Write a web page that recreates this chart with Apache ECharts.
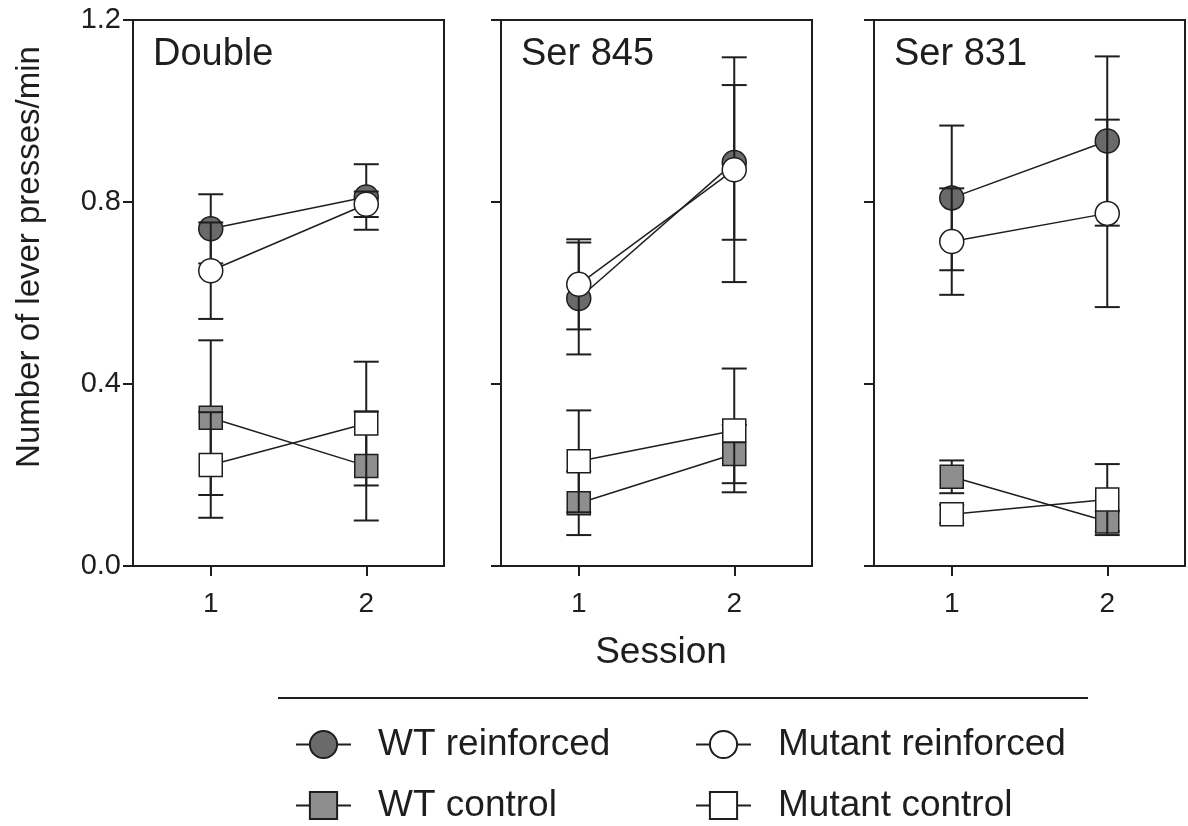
<!DOCTYPE html>
<html>
<head>
<meta charset="utf-8">
<script src="https://cdn.jsdelivr.net/npm/echarts@6/dist/echarts.min.js"></script>
<style>
  html, body { margin: 0; padding: 0; background: #fff; }
  #chart { width: 1188px; height: 826px; }
</style>
</head>
<body>
<div id="chart"></div>
<script>
// data: [session 1, session 2] for each panel
const sessions = [1, 2];
const panelNames = ['Double', 'Ser 845', 'Ser 831'];
const yTicks = [0, 0.4, 0.8, 1.2];

const wtReinforced     = [[0.741, 0.811], [0.588, 0.887], [0.809, 0.934]];
const wtReinforcedSem  = [[0.076, 0.072], [0.123, 0.170], [0.159, 0.186]];
const mutReinforced    = [[0.649, 0.795], [0.619, 0.871], [0.713, 0.775]];
const mutReinforcedSem = [[0.106, 0.028], [0.099, 0.247], [0.117, 0.206]];
const wtControl        = [[0.326, 0.220], [0.138, 0.246], [0.196, 0.098]];
const wtControlSem     = [[0.170, 0.120], [0.070, 0.064], [0.036, 0.022]];
const mutControl       = [[0.222, 0.313], [0.230, 0.298], [0.114, 0.146]];
const mutControlSem    = [[0.116, 0.136], [0.112, 0.136], [0.020, 0.078]];

const groups = [
  { name: 'WT reinforced', mean: wtReinforced, sem: wtReinforcedSem, symbol: 'circle', size: 24, fill: '#6a6a6a' },
  { name: 'WT control', mean: wtControl, sem: wtControlSem, symbol: 'rect', size: 23, fill: '#8e8e8e' },
  { name: 'Mutant reinforced', mean: mutReinforced, sem: mutReinforcedSem, symbol: 'circle', size: 24, fill: '#ffffff' },
  { name: 'Mutant control', mean: mutControl, sem: mutControlSem, symbol: 'rect', size: 23, fill: '#ffffff' }
];

const FONT = "'Liberation Sans', Arial, sans-serif";
const INK = '#1e1e1e';
const panelLeft = [133, 501, 874];
const panelWidth = 311;

function errorBar(params, api) {
  const x = api.value(0);
  const top = api.coord([x, api.value(2)]);
  const bot = api.coord([x, api.value(1)]);
  const hw = 12.5;
  const st = { stroke: INK, lineWidth: 2 };
  return {
    type: 'group',
    children: [
      { type: 'line', shape: { x1: top[0], y1: top[1], x2: bot[0], y2: bot[1] }, style: st },
      { type: 'line', shape: { x1: top[0] - hw, y1: top[1], x2: top[0] + hw, y2: top[1] }, style: st },
      { type: 'line', shape: { x1: bot[0] - hw, y1: bot[1], x2: bot[0] + hw, y2: bot[1] }, style: st }
    ]
  };
}

const grids = [], xAxes = [], yAxes = [], series = [];

panelNames.forEach(function (name, p) {
  grids.push({
    left: panelLeft[p], top: 20, width: panelWidth, height: 546,
    show: true, borderColor: INK, borderWidth: 2, backgroundColor: 'transparent'
  });
  xAxes.push({
    gridIndex: p, type: 'value', min: 0.5, max: 2.5,
    splitLine: { show: false },
    axisLine: { lineStyle: { color: INK, width: 2 } },
    axisTick: { length: 10, lineStyle: { color: INK, width: 2 }, customValues: sessions },
    axisLabel: { customValues: sessions, fontSize: 28, color: INK, fontFamily: FONT, margin: 24 }
  });
  yAxes.push({
    gridIndex: p, type: 'value', min: 0, max: 1.2, interval: 0.4,
    splitLine: { show: false },
    axisLine: { show: true, lineStyle: { color: INK, width: 2 } },
    axisTick: { show: true, length: 10, lineStyle: { color: INK, width: 2 } },
    axisLabel: {
      show: p === 0, fontSize: 29, color: INK, fontFamily: FONT, margin: 12,
      formatter: function (v) { return v.toFixed(1); }
    }
  });

  groups.forEach(function (g, gi) {
    const errData = sessions.map(function (s, i) {
      return [s, g.mean[p][i] - g.sem[p][i], g.mean[p][i] + g.sem[p][i]];
    });
    series.push({
      type: 'custom', name: g.name + ' sem', xAxisIndex: p, yAxisIndex: p,
      renderItem: errorBar, data: errData, z: 2 + gi * 2, silent: true
    });
    series.push({
      type: 'line', name: g.name, xAxisIndex: p, yAxisIndex: p,
      data: sessions.map(function (s, i) { return [s, g.mean[p][i]]; }),
      symbol: g.symbol, symbolSize: g.size,
      itemStyle: { color: g.fill, borderColor: INK, borderWidth: 1.5 },
      lineStyle: { color: INK, width: 1.5 },
      z: 3 + gi * 2, animation: false
    });
  });
});

const legendPos = [
  { name: 'WT reinforced', left: 290, top: 721 },
  { name: 'Mutant reinforced', left: 690, top: 721 },
  { name: 'WT control', left: 290, top: 782 },
  { name: 'Mutant control', left: 690, top: 782 }
];
const legends = legendPos.map(function (l) {
  return {
    data: [l.name], left: l.left, top: l.top,
    itemWidth: 55, itemHeight: 34, selectedMode: false,
    textStyle: { fontSize: 37, color: INK, fontFamily: FONT, padding: [0, 0, 0, 22] }
  };
});

const panelTitles = panelNames.map(function (name, p) {
  return {
    type: 'text', left: panelLeft[p] + 20, top: 36,
    style: { text: name, fontSize: 38, fill: INK, fontFamily: FONT }
  };
});

const option = {
  animation: false,
  backgroundColor: '#fff',
  grid: grids,
  xAxis: xAxes,
  yAxis: yAxes,
  legend: legends,
  series: series,
  graphic: panelTitles.concat([
    {
      type: 'text', x: 30, y: 257, rotation: Math.PI / 2,
      style: { text: 'Number of lever presses/min', fontSize: 33, fill: INK, fontFamily: FONT, align: 'center', verticalAlign: 'middle' }
    },
    {
      type: 'text', x: 661, y: 653,
      style: { text: 'Session', fontSize: 37, fill: INK, fontFamily: FONT, align: 'center', verticalAlign: 'middle' }
    },
    {
      type: 'line', shape: { x1: 278, y1: 698, x2: 1088, y2: 698 },
      style: { stroke: INK, lineWidth: 2 }
    }
  ])
};

const myChart = echarts.init(document.getElementById('chart'));
myChart.setOption(option);
</script>
</body>
</html>
